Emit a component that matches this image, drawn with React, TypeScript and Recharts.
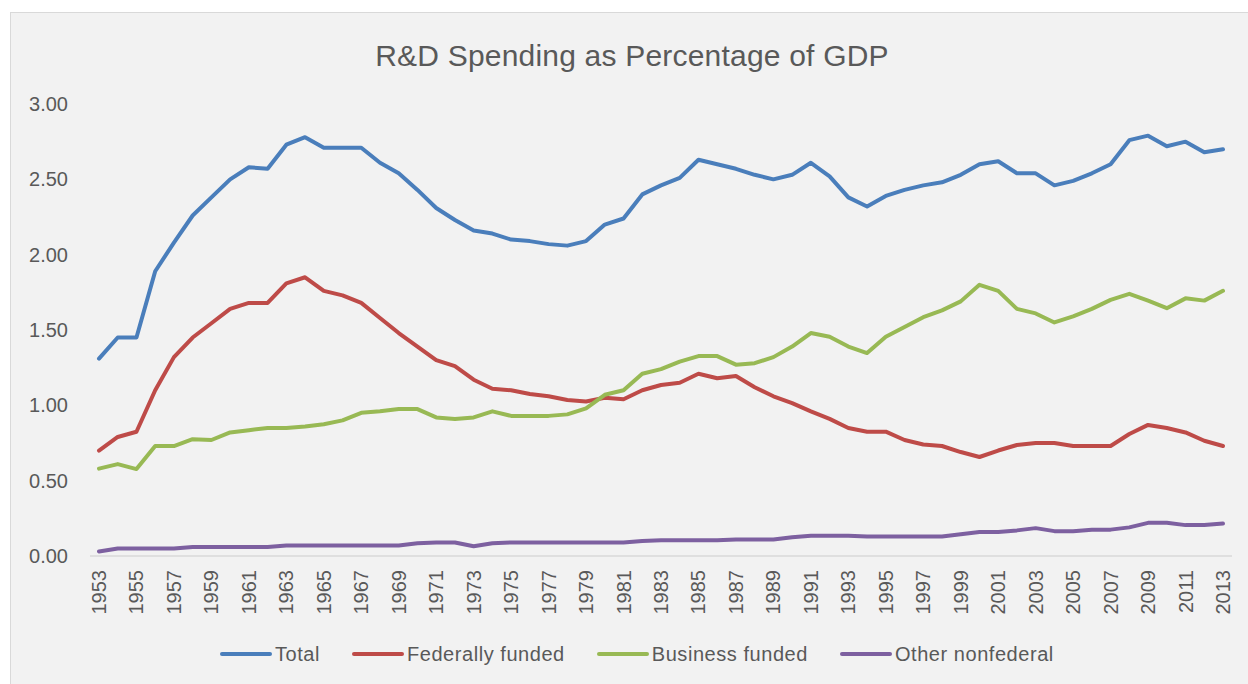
import { LineChart, Line, XAxis, YAxis } from 'recharts';

const FONT = '"Liberation Sans", Arial, sans-serif';
const TEXT = '#595959';

const years = [
  1953, 1954, 1955, 1956, 1957, 1958, 1959, 1960, 1961, 1962,
  1963, 1964, 1965, 1966, 1967, 1968, 1969, 1970, 1971, 1972,
  1973, 1974, 1975, 1976, 1977, 1978, 1979, 1980, 1981, 1982,
  1983, 1984, 1985, 1986, 1987, 1988, 1989, 1990, 1991, 1992,
  1993, 1994, 1995, 1996, 1997, 1998, 1999, 2000, 2001, 2002,
  2003, 2004, 2005, 2006, 2007, 2008, 2009, 2010, 2011, 2012,
  2013,
];

const total = [
  1.31, 1.45, 1.45, 1.89, 2.08, 2.26, 2.38, 2.5, 2.58, 2.57,
  2.73, 2.78, 2.71, 2.71, 2.71, 2.61, 2.54, 2.43, 2.31, 2.23,
  2.16, 2.14, 2.1, 2.09, 2.07, 2.06, 2.09, 2.2, 2.24, 2.4,
  2.46, 2.51, 2.63, 2.6, 2.57, 2.53, 2.5, 2.53, 2.61, 2.52,
  2.38, 2.32, 2.39, 2.43, 2.46, 2.48, 2.53, 2.6, 2.62, 2.54,
  2.54, 2.46, 2.49, 2.54, 2.6, 2.76, 2.79, 2.72, 2.75, 2.68,
  2.7,
];

const federal = [
  0.7, 0.79, 0.825, 1.1, 1.32, 1.45, 1.545, 1.64, 1.68, 1.68,
  1.81, 1.85, 1.76, 1.73, 1.68, 1.58, 1.48, 1.39, 1.3, 1.26,
  1.17, 1.11, 1.1, 1.075, 1.06, 1.035, 1.025, 1.05, 1.04, 1.1,
  1.135, 1.15, 1.21, 1.18, 1.195, 1.12, 1.06, 1.015, 0.96, 0.91,
  0.85, 0.825, 0.825, 0.77, 0.74, 0.73, 0.69, 0.657, 0.7, 0.737,
  0.75, 0.75, 0.73, 0.73, 0.73, 0.81, 0.87, 0.85, 0.82, 0.765,
  0.73,
];

const business = [
  0.58, 0.61, 0.577, 0.73, 0.73, 0.775, 0.77, 0.82, 0.835, 0.85,
  0.85, 0.86, 0.875, 0.9, 0.95, 0.96, 0.975, 0.975, 0.92, 0.91,
  0.92, 0.96, 0.93, 0.93, 0.93, 0.94, 0.98, 1.07, 1.1, 1.21,
  1.24, 1.29, 1.327, 1.327, 1.27, 1.28, 1.32, 1.39, 1.48, 1.455,
  1.39, 1.347, 1.455, 1.52, 1.585, 1.63, 1.69, 1.8, 1.76, 1.64,
  1.61, 1.55, 1.59, 1.64, 1.7, 1.74, 1.695, 1.645, 1.71, 1.695,
  1.76,
];

const other = [
  0.03, 0.05, 0.05, 0.05, 0.05, 0.06, 0.06, 0.06, 0.06, 0.06,
  0.07, 0.07, 0.07, 0.07, 0.07, 0.07, 0.07, 0.085, 0.09, 0.09,
  0.065, 0.085, 0.09, 0.09, 0.09, 0.09, 0.09, 0.09, 0.09, 0.1,
  0.105, 0.105, 0.105, 0.105, 0.11, 0.11, 0.11, 0.125, 0.135, 0.135,
  0.135, 0.13, 0.13, 0.13, 0.13, 0.13, 0.145, 0.16, 0.16, 0.17,
  0.185, 0.165, 0.165, 0.175, 0.175, 0.19, 0.22, 0.22, 0.205, 0.205,
  0.215,
];

const yTicks = [0, 0.5, 1, 1.5, 2, 2.5, 3];

const series = [
  { key: 'total', name: 'Total', color: '#4a7ebb' },
  { key: 'federal', name: 'Federally funded', color: '#be4b48' },
  { key: 'business', name: 'Business funded', color: '#98b954' },
  { key: 'other', name: 'Other nonfederal', color: '#7d60a0' },
];

const data = years.map((year, i) => ({
  year,
  total: total[i],
  federal: federal[i],
  business: business[i],
  other: other[i],
}));

function YearTick({ x, y, payload }: any) {
  return (
    <g transform={`translate(${x},${y})`}>
      <text
        transform="rotate(-90)"
        x={-14}
        y={0}
        textAnchor="end"
        dominantBaseline="central"
        fill={TEXT}
        fontSize={20}
        fontFamily={FONT}
      >
        {payload.value}
      </text>
    </g>
  );
}

export default function App() {
  return (
    <div style={{ position: 'fixed', left: 0, top: 0, width: 1248, height: 684, overflow: 'hidden', background: '#fff' }}>
      {/* panel */}
      <div
        style={{
          position: 'absolute', left: 10, top: 12, width: 1250, height: 690,
          background: '#f2f2f2', border: '1px solid #d9d9d9',
        }}
      />

      <div
        style={{
          position: 'absolute', left: 0, top: 38, width: 1264, textAlign: 'center',
          fontFamily: FONT, fontSize: 30, color: TEXT, lineHeight: '36px', letterSpacing: 0.2,
        }}
      >
        R&amp;D Spending as Percentage of GDP
      </div>

      <div style={{ position: 'absolute', left: 0, top: 0 }}>
        <LineChart width={1248} height={684} data={data} margin={{ top: 104, right: 16, left: 20, bottom: 58 }}>
          <XAxis
            dataKey="year"
            interval={1}
            height={70}
            padding={{ left: 9, right: 9 }}
            axisLine={{ stroke: '#d9d9d9', strokeWidth: 1.5 }}
            tickLine={false}
            tickSize={0}
            tickMargin={0}
            tick={<YearTick />}
          />
          <YAxis
            domain={[0, 3]}
            ticks={yTicks}
            width={70}
            axisLine={false}
            tickLine={false}
            tickSize={0}
            tickMargin={22}
            tickFormatter={(v: number) => v.toFixed(2)}
            tick={{ fontSize: 20, fill: TEXT, fontFamily: FONT }}
          />
          {series.map((s) => (
            <Line
              key={s.key}
              type="linear"
              dataKey={s.key}
              name={s.name}
              stroke={s.color}
              strokeWidth={4}
              strokeLinejoin="round"
              strokeLinecap="round"
              dot={false}
              isAnimationActive={false}
            />
          ))}
        </LineChart>
      </div>

      {/* legend */}
      <div
        style={{
          position: 'absolute', left: 220, top: 641, display: 'flex', alignItems: 'center', gap: 32,
          fontFamily: FONT, fontSize: 20, color: TEXT, lineHeight: '26px', letterSpacing: 0.55,
        }}
      >
        {series.map((s) => (
          <span key={s.key} style={{ display: 'flex', alignItems: 'center' }}>
            <span style={{ display: 'inline-block', width: 52, height: 4, borderRadius: 2, background: s.color, marginRight: 3 }} />
            {s.name}
          </span>
        ))}
      </div>
    </div>
  );
}
